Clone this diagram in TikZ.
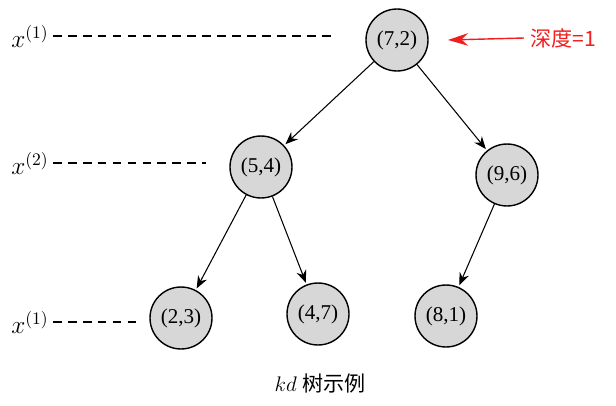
\documentclass[tikz,border=0pt]{standalone}
\usepackage{fontspec}
\setmainfont{Liberation Serif}
\newfontfamily\cjk{Noto Sans CJK SC}
\usetikzlibrary{arrows.meta, positioning}
\definecolor{NodeGray}{RGB}{215, 215, 215}
\definecolor{MarkRed}{RGB}{240, 30, 30}
\begin{document}
\begin{tikzpicture}[
            x=0.02cm, y=-0.02cm,
            kdnode/.style={circle, draw=black, thick, fill=NodeGray,
                           minimum size=1.24cm, inner sep=0pt, font=\large},
            arrow/.style={-{Stealth[length=2.5mm, width=2mm]}, semithick, shorten >=1pt},
            level/.style={semithick, dash pattern=on 5pt off 3.5pt}
        ]
            \useasboundingbox (0,0) rectangle (616,406);

            % Tree nodes
            \node[kdnode] (root) at (397,40) {(7,2)};
            \node[kdnode] (left) at (261,167) {(5,4)};
            \node[kdnode] (right) at (507,175) {(9,6)};
            \node[kdnode] (ll) at (181,318) {(2,3)};
            \node[kdnode] (lr) at (318,314) {(4,7)};
            \node[kdnode] (rl) at (446,316) {(8,1)};

            % Edges
            \draw[arrow] (root) -- (left);
            \draw[arrow] (root) -- (right);
            \draw[arrow] (left) -- (ll);
            \draw[arrow] (left) -- (lr);
            \draw[arrow] (right) -- (rl);

            % Split axes
            \node[font=\Large] (ax1) at (30,36) {$x^{(1)}$};
            \node[font=\Large] (ax2) at (30,163) {$x^{(2)}$};
            \node[font=\Large] (ax3) at (30,322) {$x^{(1)}$};
            \coordinate (e1) at (335,36);
            \coordinate (e2) at (206,163);
            \coordinate (e3) at (136,322);
            \draw[level] (ax1.east) ++(-2,0) -- (e1);
            \draw[level] (ax2.east) ++(-2,0) -- (e2);
            \draw[level] (ax3.east) ++(-2,0) -- (e3);

            % Depth mark
            \node[text=MarkRed, font=\cjk\large, anchor=west] (depth) at (524,38) {深度=1};
            \draw[-{Stealth[length=4mm, width=2.5mm]}, MarkRed, thick] (depth.west) -- (root.east -| 448,0);

            % Caption
            \node[font=\large] (cap) at (320,383) {$kd$ {\cjk 树示例}};
        \end{tikzpicture}
\end{document}
